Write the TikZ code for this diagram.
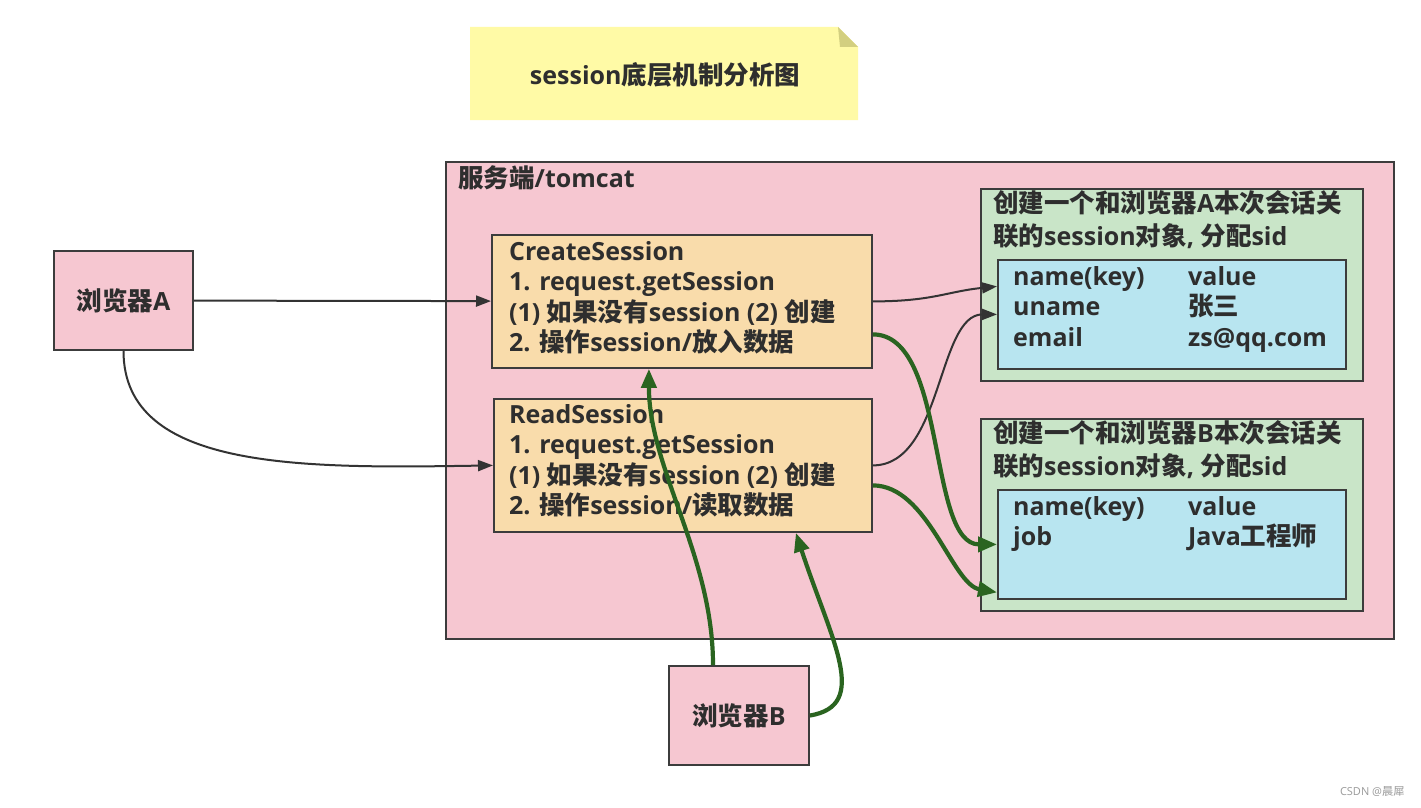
\documentclass[tikz,border=0pt]{standalone}
\usepackage{fontspec}
\setmainfont{Open Sans}
\newfontfamily\cjk{Noto Sans CJK SC}[Scale=1.02]
\newcommand{\zh}[1]{{\cjk #1}}
\usetikzlibrary{arrows.meta}

\definecolor{pinkbg}{HTML}{F6C7D1}
\definecolor{procbg}{HTML}{F9DCAB}
\definecolor{sessbg}{HTML}{C9E5C8}
\definecolor{mapbg}{HTML}{B8E5F0}
\definecolor{notebg}{HTML}{FFFAA6}
\definecolor{notefold}{HTML}{D3CF80}
\definecolor{linec}{HTML}{3C3C3C}
\definecolor{txtc}{HTML}{2E2E2E}
\definecolor{arrc}{HTML}{333333}
\definecolor{grn}{HTML}{2A6420}
\definecolor{wmgray}{HTML}{9A9A9A}

\begin{document}
\begin{tikzpicture}[x=1pt, y=-1pt,
    font=\fontsize{25}{30}\selectfont\bfseries,
    every node/.style={text=txtc},
    pinkbox/.style={draw=linec, line width=1.8pt, fill=pinkbg},
    procbox/.style={draw=linec, line width=1.8pt, fill=procbg, anchor=north west, inner sep=0pt},
    sessbox/.style={draw=linec, line width=1.8pt, fill=sessbg, anchor=north west, inner sep=0pt},
    mapbox/.style={draw=linec, line width=1.8pt, fill=mapbg, anchor=north west, inner sep=0pt},
    txtline/.style={anchor=base west, inner sep=0pt},
    darr/.style={draw=arrc, line width=2pt, -{Triangle[length=15pt,width=11pt]}},
    garr/.style={draw=grn, line width=4.2pt, -{Triangle[length=19pt,width=15pt]}},
  ]
  \fill[white] (0,0) rectangle (1421,808);
  \useasboundingbox (0,0) rectangle (1421,808);

  % title note
  \fill[notebg] (470,27) -- (838,27) -- (858,47) -- (858,120) -- (470,120) -- cycle;
  \fill[notefold] (838,27) -- (858,47) -- (840,47) -- cycle;
  \node (title) at (665,75) {session\zh{底层机制分析图}};

  % server
  \node[pinkbox, anchor=north west, minimum width=948pt, minimum height=477pt] (server) at (445,161) {};
  \node[txtline] (serverlabel) at (458,187) {\zh{服务端}/tomcat};

  % browsers
  \node[pinkbox, minimum width=139pt, minimum height=99pt] (brA) at (123.5,300.5) {\zh{浏览器}A};
  \node[pinkbox, minimum width=140pt, minimum height=99pt] (brB) at (739,715.5) {\zh{浏览器}B};

  % servlets
  \node[procbox, minimum width=380pt, minimum height=133pt] (create) at (491,234) {};
  \foreach \t [count=\i] in {CreateSession, 1. request.getSession,
      {(1) \zh{如果没有}session (2) \zh{创建}}, {2. \zh{操作}session/\zh{放入数据}}} {
    \node[txtline] (create\i) at (509,229.5+30.5*\i) {\t};
  }
  \node[procbox, minimum width=378pt, minimum height=133pt] (read) at (493,398) {};
  \foreach \t [count=\i] in {ReadSession, 1. request.getSession,
      {(1) \zh{如果没有}session (2) \zh{创建}}, {2. \zh{操作}session/\zh{读取数据}}} {
    \node[txtline] (read\i) at (509,392.5+30.5*\i) {\t};
  }

  % session objects
  \foreach \s/\top in {A/188, B/418} {
    \node[sessbox, minimum width=382pt, minimum height=192pt] (sess\s) at (980,\top) {};
    \node[txtline] (headA\s) at (993,\top+24) {\zh{创建一个和浏览器}\s\zh{本次会话关}};
    \node[txtline] (headB\s) at (993,\top+57) {\zh{联的}session\zh{对象}, \zh{分配}sid};
    \node[mapbox, minimum width=348pt, minimum height=109pt] (map\s) at (997,\top+71) {};
  }
  \foreach \k/\v [count=\i] in {name(key)/value, uname/\zh{张三}, email/zs@qq.com} {
    \node[txtline] (keyA\i) at (1013,254.5+30.5*\i) {\k};
    \node[txtline] (valA\i) at (1188,254.5+30.5*\i) {\v};
  }
  \foreach \k/\v [count=\i] in {name(key)/value, job/Java\zh{工程师}} {
    \node[txtline] (keyB\i) at (1013,484.5+30.5*\i) {\k};
    \node[txtline] (valB\i) at (1188,484.5+30.5*\i) {\v};
  }

  % browser A
  \draw[darr] (brA) -- (create);
  \draw[darr] (brA.south) .. controls +(0,120) and +(-190,3) .. (read.west);
  \draw[darr] (create.east) .. controls +(60,0) and +(-50,5) .. ([yshift=28pt]mapA.west);
  \draw[darr] (read.east) .. controls +(70,0) and +(-60,0) .. (mapA.west);

  % browser B
  \draw[garr] ([yshift=-33pt]create.east) .. controls +(75,0) and +(-70,0) .. (mapB.west);
  \draw[garr] ([yshift=-20pt]read.east) .. controls +(55,0) and +(-45,-8) .. ([yshift=-48pt]mapB.west);
  \draw[garr] ([xshift=-26pt]brB.north) .. controls +(0,-110) and +(0,100) .. ([xshift=-33pt]create.south);
  \draw[garr] (brB.east) .. controls +(61,-10) and +(35,107) .. ([xshift=113pt]read.south);

  \node[anchor=east, font=\fontsize{11}{13}\selectfont, text=wmgray] (mark) at (1408,792) {CSDN @\zh{晨犀}};
\end{tikzpicture}
\end{document}
